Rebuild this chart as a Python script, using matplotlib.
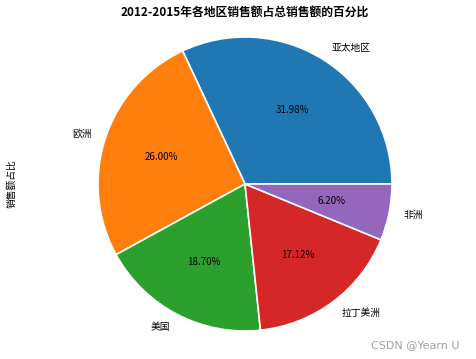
import matplotlib.pyplot as plt

plt.rcParams['font.family'] = ['Noto Sans CJK SC', 'DejaVu Sans']

# Data
regions = ["亚太地区", "欧洲", "美国", "拉丁美洲", "非洲"]
shares = [31.98, 26.00, 18.70, 17.12, 6.20]

fig = plt.figure(figsize=(4.77, 3.59), dpi=100)

# axes placed so the pie centre sits at (245, 184) px with radius 147 px
W, H = 477, 359
cx, cy, r = 245, 184, 147
left_px, right_px = 60, 430
top_px, bottom_px = 30, 338
ax = fig.add_axes([left_px / W, (H - bottom_px) / H,
                   (right_px - left_px) / W, (bottom_px - top_px) / H])

ax.pie(shares, labels=regions, autopct="%.2f%%",
       wedgeprops={"edgecolor": "white", "linewidth": 1.2},
       textprops={"fontsize": 7},
       radius=1, center=(0, 0), frame=False)

ax.set_xlim((left_px - cx) / r, (right_px - cx) / r)
ax.set_ylim((cy - bottom_px) / r, (cy - top_px) / r)

fig.text(cx / W, 1 - 12 / H, "2012-2015年各地区销售额占总销售额的百分比",
         ha="center", va="center", fontsize=8.5, fontweight="bold")
fig.text(12 / W, 1 - cy / H, "销售额占比", rotation=90,
         ha="center", va="center", fontsize=7)
fig.text(415 / W, 1 - 345 / H, "CSDN @Yearn U", color="#a0a0a0",
         ha="center", va="center", fontsize=8, family="DejaVu Sans")

fig.savefig("out.png", dpi=100)
